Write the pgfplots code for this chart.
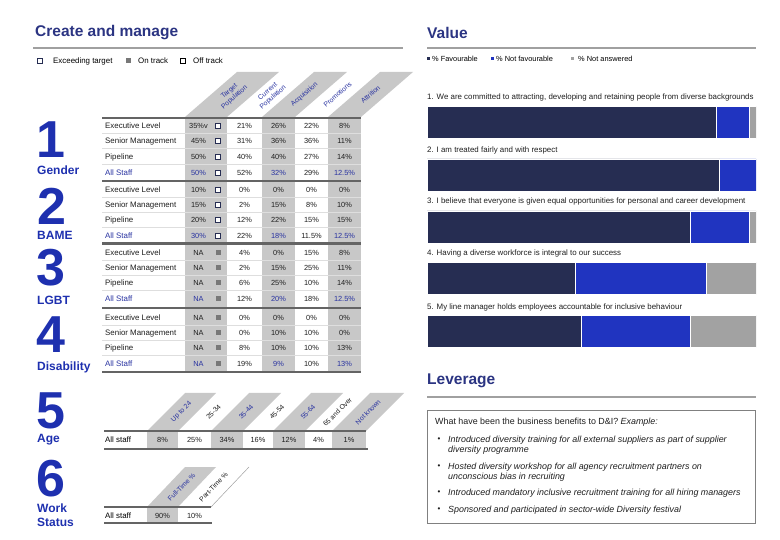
\documentclass[border=0pt]{standalone}
\usepackage{fontspec}
\setmainfont{Liberation Sans}
\usepackage{pgfplots}
\pgfplotsset{compat=1.18}
\definecolor{titleblue}{RGB}{43,52,130}
\definecolor{numblue}{RGB}{30,48,175}
\definecolor{navybar}{RGB}{38,45,82}
\definecolor{bluebar}{RGB}{32,52,192}
\definecolor{graybar}{RGB}{162,162,162}
\definecolor{cellgray}{RGB}{200,200,200}
\definecolor{linegray}{RGB}{100,100,100}
\definecolor{rulegray}{RGB}{160,160,160}
\definecolor{sepgray}{RGB}{222,222,222}
\definecolor{markgray}{RGB}{120,120,120}
\definecolor{txt}{RGB}{30,30,30}
\definecolor{hdrblue}{RGB}{40,50,160}
\newcommand\fs[1]{\fontsize{#1}{#1}\selectfont}
\newcommand\trow[9]{%
\node[lab,text=#9] at (105,#1) {#2};
\node[val,text=#9] at (198.5,#1) {#3};
\node[#4] at (218,#1) {};
\node[val] at (244.5,#1) {#5};
\node[val,text=#9] at (278.5,#1) {#6};
\node[val] at (311.5,#1) {#7};
\node[val,text=#9] at (344.5,#1) {#8};
}
\begin{document}
\begin{tikzpicture}[
  lab/.style={anchor=west,inner sep=0,font=\fs{7.9}},
  val/.style={inner sep=0,font=\fs{7.4},text=txt},
  mo/.style={draw=navybar,fill=white,line width=0.7pt,minimum size=5pt,inner sep=0},
  mf/.style={fill=markgray,minimum size=5pt,inner sep=0},
  big/.style={inner sep=0,font=\bfseries\fs{52},text=numblue},
  cat/.style={anchor=west,inner sep=0,font=\bfseries\fs{12},text=numblue},
  hd/.style={inner sep=0,font=\fontsize{6.8}{7.8}\selectfont,align=center},
  q/.style={anchor=west,inner sep=0,font=\fs{7.9},text=txt},
  lv/.style={anchor=west,inner sep=0,font=\itshape\fs{8.9},text=txt}
]
\begin{scope}[x=1pt,y=-1pt]
\path[use as bounding box] (0,0) rectangle (780,540);
% titles
\node[anchor=west,inner sep=0,font=\bfseries\fs{15.5},text=titleblue] at (35,33) {Create and manage};
\node[anchor=west,inner sep=0,font=\bfseries\fs{15.5},text=titleblue] at (427,33) {Value};
\node[anchor=west,inner sep=0,font=\bfseries\fs{15.5},text=titleblue] at (427,381) {Leverage};
\draw[rulegray,line width=2pt] (33,48)--(403,48);
\draw[rulegray,line width=2pt] (427,48)--(756,48);
\draw[rulegray,line width=2pt] (427,397)--(756,397);
% left legend
\draw[navybar,fill=white,line width=0.8pt] (37.5,58.5) rectangle (42.5,63.5);
\node[anchor=west,inner sep=0,font=\fs{7.9}] at (53,61) {Exceeding target};
\fill[markgray] (125.5,58.5) rectangle (130.5,63.5);
\node[anchor=west,inner sep=0,font=\fs{7.9}] at (138,61) {On track};
\draw[black,fill=white,line width=0.8pt] (180.5,58.5) rectangle (185.5,63.5);
\node[anchor=west,inner sep=0,font=\fs{7.9}] at (193,61) {Off track};
% right legend
\fill[navybar] (427,57.5) rectangle (430,60.5);
\node[anchor=west,inner sep=0,font=\fs{7.4}] at (432,59) {\% Favourable};
\fill[bluebar] (491,57.5) rectangle (494,60.5);
\node[anchor=west,inner sep=0,font=\fs{7.4}] at (496,59) {\% Not favourable};
\fill[graybar] (571,57.5) rectangle (574,60.5);
\node[anchor=west,inner sep=0,font=\fs{7.4}] at (578,59) {\% Not answered};
% question labels
\node[q] at (427,97) {1. We are committed to attracting, developing and retaining people from diverse backgrounds};
\node[q] at (427,150) {2. I am treated fairly and with respect};
\node[q] at (427,201) {3. I believe that everyone is given equal opportunities for personal and career development};
\node[q] at (427,253) {4. Having a diverse workforce is integral to our success};
\node[q] at (427,307) {5. My line manager holds employees accountable for inclusive behaviour};
% top header strips
\fill[cellgray] (185,117)--(227,117)--(279,72)--(237,72)--cycle;
\fill[cellgray] (262,117)--(295,117)--(347,72)--(314,72)--cycle;
\fill[cellgray] (328,117)--(361,117)--(413,72)--(380,72)--cycle;
\node[hd,rotate=41,text=hdrblue] at (232,94.5) {Target\\Population};
\node[hd,rotate=41,text=hdrblue] at (270.5,94.5) {Current\\Population};
\node[hd,rotate=41,text=hdrblue] at (304.5,94.5) {Acquisition};
\node[hd,rotate=41,text=hdrblue] at (337.5,94.5) {Promotions};
\node[hd,rotate=41,text=hdrblue] at (370.5,94.5) {Attrition};
% table backgrounds
\fill[cellgray] (185,118) rectangle (227,372);
\fill[cellgray] (262,118) rectangle (295,372);
\fill[cellgray] (328,118) rectangle (361,372);
\foreach \y in {133.5,149,165,197.5,212.5,228,260.5,275.5,291,325.5,340.5,356}
  \draw[sepgray,line width=1pt] (102,\y)--(361,\y);
\foreach \y in {118,181,243.5,308,372}
  \draw[linegray,line width=2.5pt] (102,\y)--(361,\y);
% rows
\trow{126}{Executive Level}{35\%v}{mo}{21\%}{26\%}{22\%}{8\%}{txt}
\trow{141}{Senior Management}{45\%}{mo}{31\%}{36\%}{36\%}{11\%}{txt}
\trow{157}{Pipeline}{50\%}{mo}{40\%}{40\%}{27\%}{14\%}{txt}
\trow{173}{All Staff}{50\%}{mo}{52\%}{32\%}{29\%}{12.5\%}{hdrblue}
\trow{190}{Executive Level}{10\%}{mo}{0\%}{0\%}{0\%}{0\%}{txt}
\trow{205}{Senior Management}{15\%}{mo}{2\%}{15\%}{8\%}{10\%}{txt}
\trow{220}{Pipeline}{20\%}{mo}{12\%}{22\%}{15\%}{15\%}{txt}
\trow{236}{All Staff}{30\%}{mo}{22\%}{18\%}{11.5\%}{12.5\%}{hdrblue}
\trow{253}{Executive Level}{NA}{mf}{4\%}{0\%}{15\%}{8\%}{txt}
\trow{268}{Senior Management}{NA}{mf}{2\%}{15\%}{25\%}{11\%}{txt}
\trow{283}{Pipeline}{NA}{mf}{6\%}{25\%}{10\%}{14\%}{txt}
\trow{299}{All Staff}{NA}{mf}{12\%}{20\%}{18\%}{12.5\%}{hdrblue}
\trow{318}{Executive Level}{NA}{mf}{0\%}{0\%}{0\%}{0\%}{txt}
\trow{333}{Senior Management}{NA}{mf}{0\%}{10\%}{10\%}{0\%}{txt}
\trow{348}{Pipeline}{NA}{mf}{8\%}{10\%}{10\%}{13\%}{txt}
\trow{364}{All Staff}{NA}{mf}{19\%}{9\%}{10\%}{13\%}{hdrblue}
% big numbers and categories
\node[big] at (51,140) {1};
\node[cat] at (37,170) {Gender};
\node[big] at (52,206) {2};
\node[cat] at (37,235) {BAME};
\node[big] at (51,268) {3};
\node[cat] at (37,300) {LGBT};
\node[big] at (51,335) {4};
\node[cat] at (37,367) {Disability};
\node[big] at (51,411) {5};
\node[cat] at (37,440) {Age};
\node[big] at (51,479) {6};
\node[cat] at (37,508) {Work};
\node[cat] at (37,522) {Status};
% age strips
\fill[cellgray] (147,431)--(178,431)--(216,393)--(185,393)--cycle;
\fill[cellgray] (211,431)--(243,431)--(281,393)--(249,393)--cycle;
\fill[cellgray] (273,431)--(305,431)--(343,393)--(311,393)--cycle;
\fill[cellgray] (332,431)--(366,431)--(404,393)--(370,393)--cycle;
\node[hd,rotate=45,text=hdrblue] at (181.5,412) {Up to 24};
\node[hd,rotate=45,text=txt] at (213.5,412) {25-34};
\node[hd,rotate=45,text=hdrblue] at (246,412) {35-44};
\node[hd,rotate=45,text=txt] at (277,412) {45-54};
\node[hd,rotate=45,text=hdrblue] at (308,412) {55-64};
\node[hd,rotate=45,text=txt] at (337.5,412) {65 and Over};
\node[hd,rotate=45,text=hdrblue] at (368,412) {Not known};
\fill[cellgray] (147,431) rectangle (178,449);
\fill[cellgray] (211,431) rectangle (243,449);
\fill[cellgray] (273,431) rectangle (305,449);
\fill[cellgray] (332,431) rectangle (366,449);
\draw[linegray,line width=2pt] (104,431)--(366,431);
\draw[linegray,line width=2pt] (104,449)--(368,449);
\node[lab] at (105,440) {All staff};
\node[val] at (162.5,440) {8\%};
\node[val] at (194.5,440) {25\%};
\node[val] at (227,440) {34\%};
\node[val] at (258,440) {16\%};
\node[val] at (289,440) {12\%};
\node[val] at (318.5,440) {4\%};
\node[val] at (349,440) {1\%};
% work status strips
\fill[cellgray] (147,507)--(178,507)--(216,467)--(185,467)--cycle;
\draw[rulegray,line width=0.5pt] (211,507)--(249,467);
\node[hd,rotate=46,text=hdrblue] at (181.5,487) {Full-Time \%};
\node[hd,rotate=46,text=txt] at (213.5,487) {Part-Time \%};
\fill[cellgray] (147,507) rectangle (178,523);
\draw[linegray,line width=2pt] (104,507)--(211,507);
\draw[linegray,line width=2pt] (104,523)--(212,523);
\node[lab] at (105,516) {All staff};
\node[val] at (162.5,516) {90\%};
\node[val] at (194.5,516) {10\%};
% leverage box
\draw[gray,line width=0.8pt] (427,410) rectangle (755,523);
\node[anchor=west,inner sep=0,font=\fs{8.9},text=txt] at (435,422) {What have been the business benefits to D\&I? \textit{Example:}};
\foreach \y in {440,467,493,510} \node[anchor=center,inner sep=0,font=\fs{8},text=txt] at (439,\y) {•};
\node[lv] at (448,440) {Introduced diversity training for all external suppliers as part of supplier};
\node[lv] at (448,450) {diversity programme};
\node[lv] at (448,467) {Hosted diversity workshop for all agency recruitment partners on};
\node[lv] at (448,477) {unconscious bias in recruiting};
\node[lv] at (448,493) {Introduced mandatory inclusive recruitment training for all hiring managers};
\node[lv] at (448,510) {Sponsored and participated in sector-wide Diversity festival};
\end{scope}
\begin{axis}[
  at={(427pt,-100pt)}, anchor=north west,
  scale only axis, width=329pt, height=250pt,
  xmin=0, xmax=100, ymin=-350, ymax=-100,
  hide axis, xbar stacked, bar width=32,
  every axis plot/.append style={draw=white,line width=0.8pt}
]
\addplot[fill=navybar] coordinates {(88,-122.5) (89,-175) (80,-227) (45,-278.5) (47,-331.5)};
\addplot[fill=bluebar] coordinates {(10,-122.5) (11,-175) (18,-227) (40,-278.5) (33,-331.5)};
\addplot[fill=graybar] coordinates {(2,-122.5) (0,-175) (2,-227) (15,-278.5) (20,-331.5)};
\end{axis}
\end{tikzpicture}
\end{document}
